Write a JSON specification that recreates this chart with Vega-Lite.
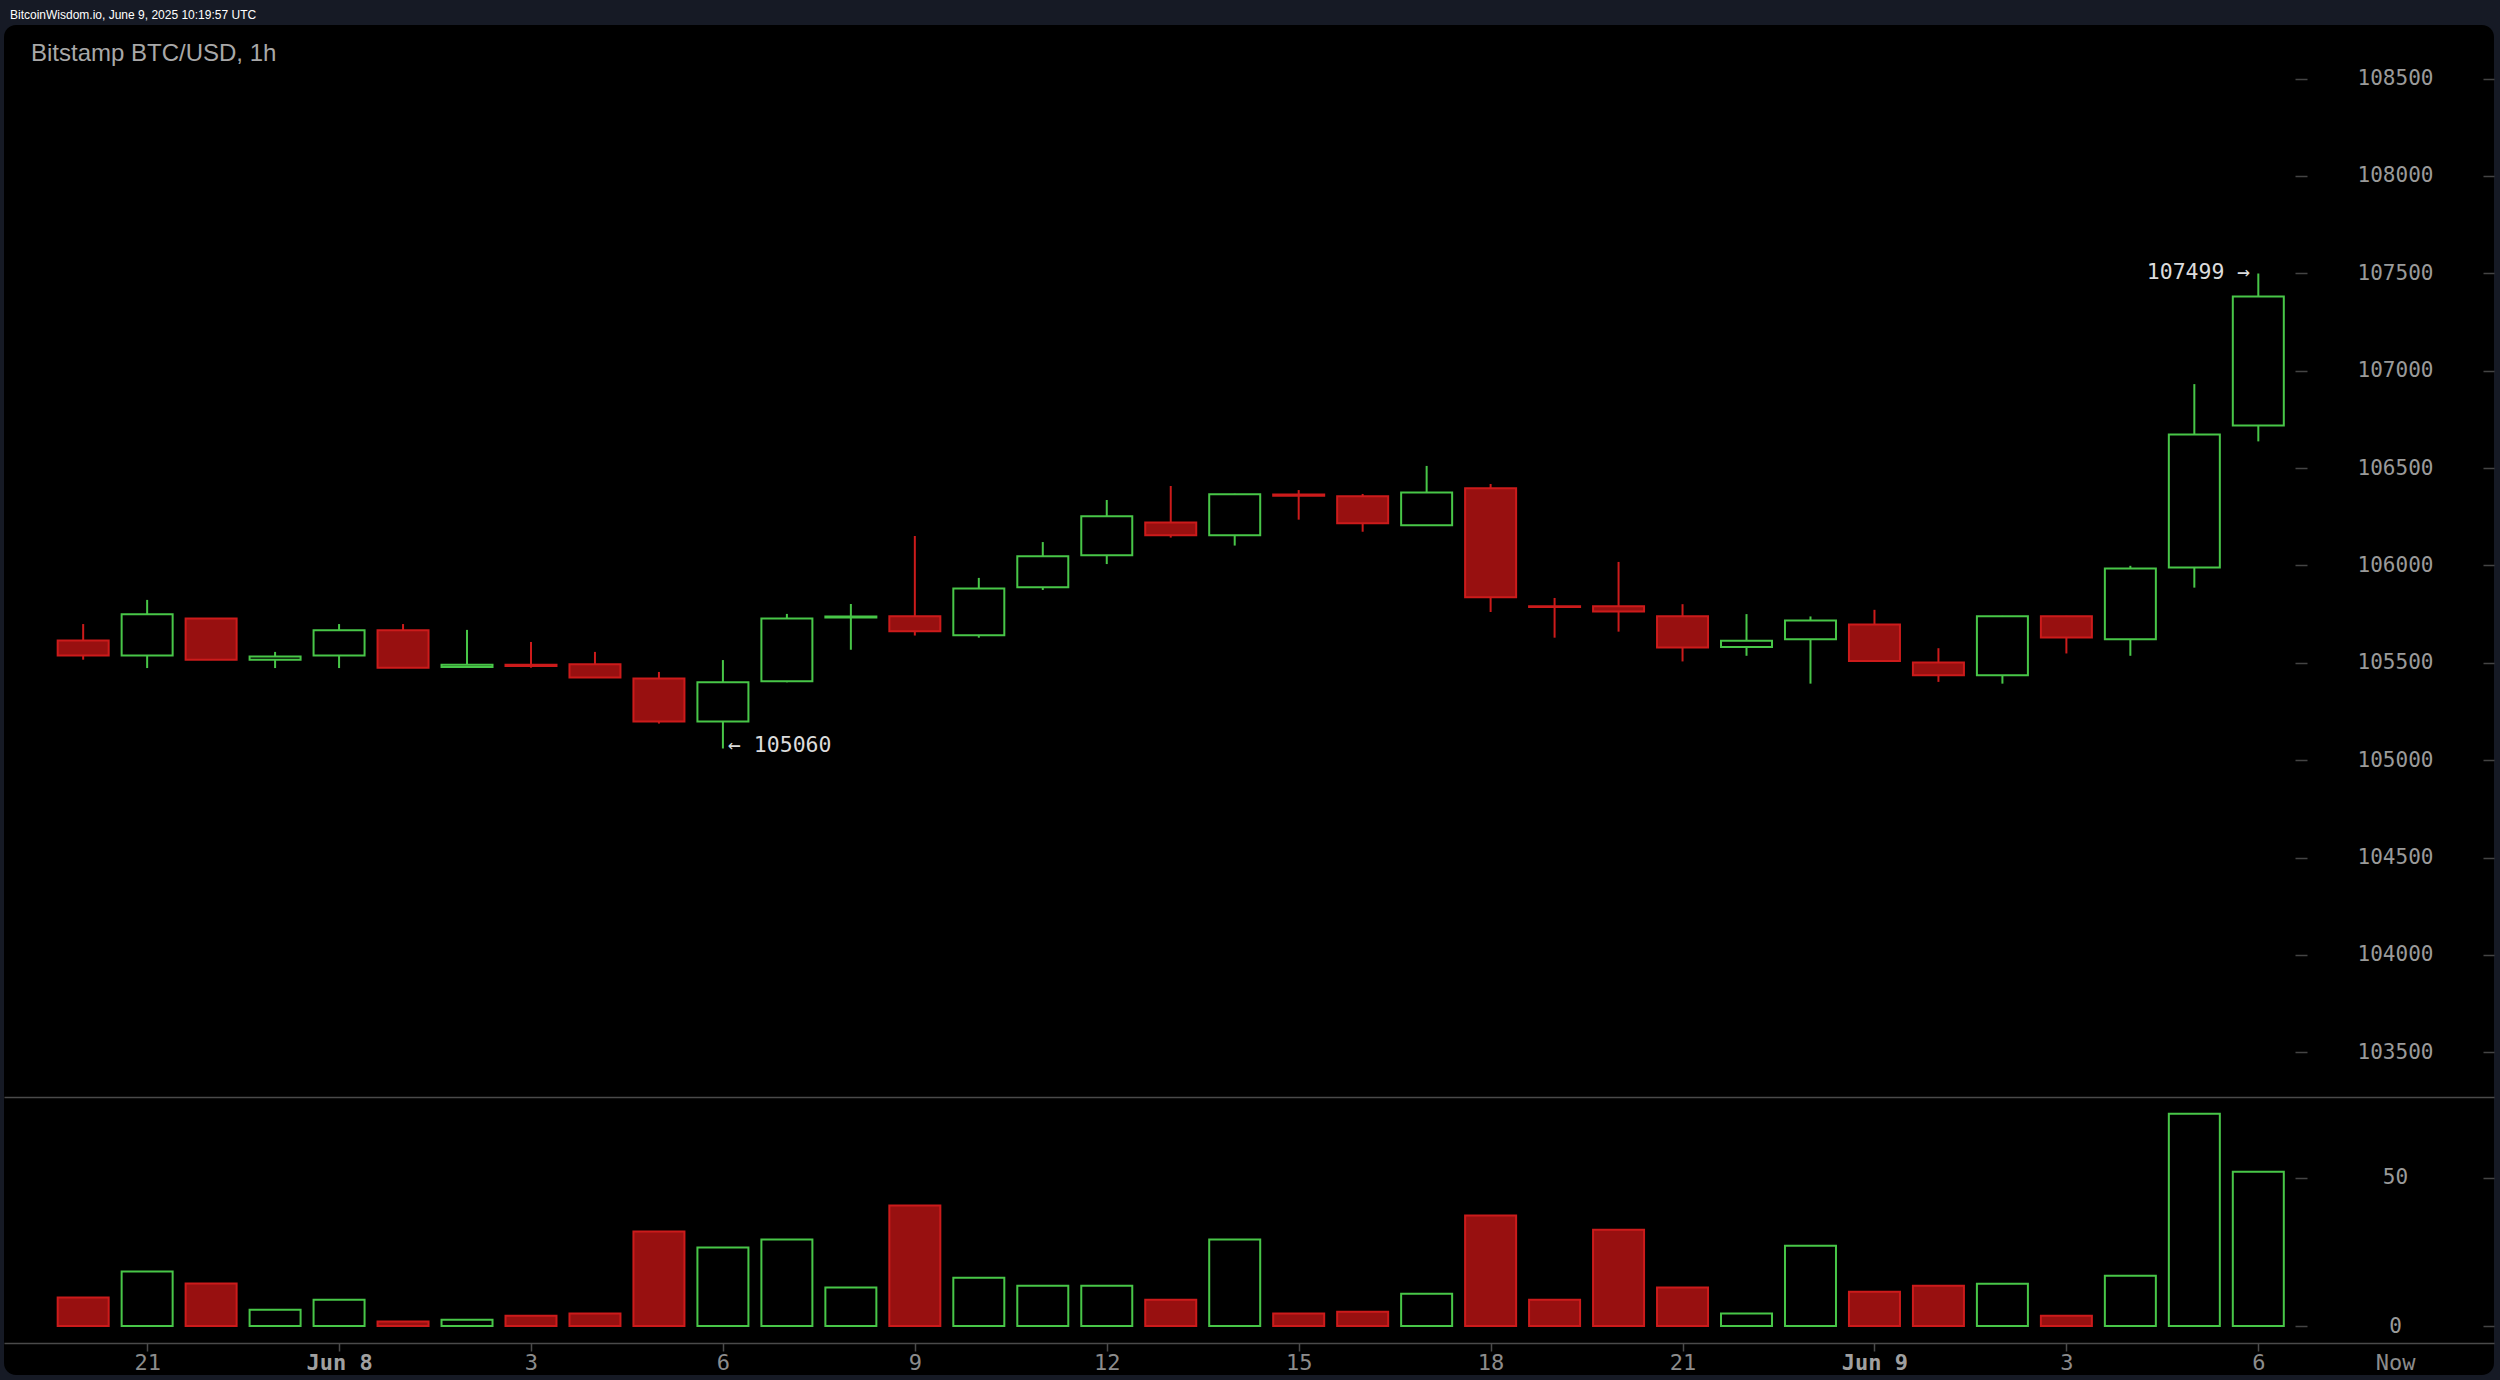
{
  "$schema": "https://vega.github.io/schema/vega-lite/v6.json",
  "width": 2500,
  "height": 1380,
  "autosize": {"type": "fit", "contains": "padding"},
  "padding": {"left": 4, "top": 9, "right": 5, "bottom": 5},
  "background": "#161a25",
  "config": {
    "view": {"fill": "#000000", "stroke": null, "cornerRadius": 12},
    "axis": {"grid": false, "title": null, "labelFont": "DejaVu Sans Mono", "minExtent": 0}
  },
  "title": {
    "text": "BitcoinWisdom.io, June 9, 2025 10:19:57 UTC",
    "anchor": "start",
    "frame": "group",
    "dx": 6,
    "offset": -6,
    "baseline": "alphabetic",
    "font": "Liberation Sans",
    "fontSize": 12,
    "fontWeight": "normal",
    "color": "#ffffff"
  },
  "datasets": {
    "candles": [
      {"t": "2025-06-07T20:00:00Z", "open": 105615, "high": 105699, "low": 105516, "close": 105537, "volume": 9.6},
      {"t": "2025-06-07T21:00:00Z", "open": 105538, "high": 105823, "low": 105473, "close": 105749, "volume": 18.4},
      {"t": "2025-06-07T22:00:00Z", "open": 105728, "high": 105730, "low": 105514, "close": 105516, "volume": 14.4},
      {"t": "2025-06-07T23:00:00Z", "open": 105516, "high": 105556, "low": 105473, "close": 105533, "volume": 5.5},
      {"t": "2025-06-08T00:00:00Z", "open": 105538, "high": 105699, "low": 105473, "close": 105667, "volume": 8.9},
      {"t": "2025-06-08T01:00:00Z", "open": 105667, "high": 105699, "low": 105473, "close": 105475, "volume": 1.5},
      {"t": "2025-06-08T02:00:00Z", "open": 105478, "high": 105669, "low": 105475, "close": 105490, "volume": 2.1},
      {"t": "2025-06-08T03:00:00Z", "open": 105490, "high": 105607, "low": 105475, "close": 105484, "volume": 3.5},
      {"t": "2025-06-08T04:00:00Z", "open": 105492, "high": 105556, "low": 105424, "close": 105424, "volume": 4.2},
      {"t": "2025-06-08T05:00:00Z", "open": 105420, "high": 105453, "low": 105188, "close": 105198, "volume": 31.9},
      {"t": "2025-06-08T06:00:00Z", "open": 105198, "high": 105514, "low": 105060, "close": 105400, "volume": 26.5},
      {"t": "2025-06-08T07:00:00Z", "open": 105405, "high": 105751, "low": 105400, "close": 105727, "volume": 29.2},
      {"t": "2025-06-08T08:00:00Z", "open": 105732, "high": 105802, "low": 105567, "close": 105738, "volume": 13.0},
      {"t": "2025-06-08T09:00:00Z", "open": 105739, "high": 106151, "low": 105640, "close": 105662, "volume": 40.7},
      {"t": "2025-06-08T10:00:00Z", "open": 105641, "high": 105936, "low": 105629, "close": 105881, "volume": 16.3},
      {"t": "2025-06-08T11:00:00Z", "open": 105888, "high": 106120, "low": 105874, "close": 106047, "volume": 13.6},
      {"t": "2025-06-08T12:00:00Z", "open": 106052, "high": 106336, "low": 106007, "close": 106252, "volume": 13.6},
      {"t": "2025-06-08T13:00:00Z", "open": 106221, "high": 106408, "low": 106143, "close": 106155, "volume": 8.9},
      {"t": "2025-06-08T14:00:00Z", "open": 106155, "high": 106368, "low": 106102, "close": 106365, "volume": 29.2},
      {"t": "2025-06-08T15:00:00Z", "open": 106364, "high": 106387, "low": 106235, "close": 106358, "volume": 4.2},
      {"t": "2025-06-08T16:00:00Z", "open": 106355, "high": 106367, "low": 106173, "close": 106216, "volume": 4.8},
      {"t": "2025-06-08T17:00:00Z", "open": 106206, "high": 106511, "low": 106206, "close": 106374, "volume": 10.9},
      {"t": "2025-06-08T18:00:00Z", "open": 106396, "high": 106418, "low": 105761, "close": 105836, "volume": 37.3},
      {"t": "2025-06-08T19:00:00Z", "open": 105790, "high": 105833, "low": 105629, "close": 105786, "volume": 8.9},
      {"t": "2025-06-08T20:00:00Z", "open": 105790, "high": 106018, "low": 105660, "close": 105763, "volume": 32.5},
      {"t": "2025-06-08T21:00:00Z", "open": 105739, "high": 105801, "low": 105507, "close": 105579, "volume": 13.0},
      {"t": "2025-06-08T22:00:00Z", "open": 105581, "high": 105750, "low": 105536, "close": 105613, "volume": 4.2},
      {"t": "2025-06-08T23:00:00Z", "open": 105621, "high": 105738, "low": 105393, "close": 105717, "volume": 27.1},
      {"t": "2025-06-09T00:00:00Z", "open": 105697, "high": 105772, "low": 105507, "close": 105509, "volume": 11.6},
      {"t": "2025-06-09T01:00:00Z", "open": 105501, "high": 105575, "low": 105402, "close": 105436, "volume": 13.6},
      {"t": "2025-06-09T02:00:00Z", "open": 105436, "high": 105741, "low": 105393, "close": 105739, "volume": 14.3},
      {"t": "2025-06-09T03:00:00Z", "open": 105739, "high": 105741, "low": 105548, "close": 105630, "volume": 3.5},
      {"t": "2025-06-09T04:00:00Z", "open": 105621, "high": 105998, "low": 105536, "close": 105984, "volume": 17.0},
      {"t": "2025-06-09T05:00:00Z", "open": 105990, "high": 106931, "low": 105886, "close": 106672, "volume": 71.7},
      {"t": "2025-06-09T06:00:00Z", "open": 106719, "high": 107499, "low": 106637, "close": 107381, "volume": 52.1}
    ],
    "notes": [
      {"t": "2025-06-09T06:00:00Z", "price": 107499, "label": "107499 \u2192", "kind": "max"},
      {"t": "2025-06-08T06:00:00Z", "price": 105060, "label": "\u2190 105060", "kind": "min"}
    ]
  },
  "layer": [
    {
      "data": {"name": "candles"},
      "mark": {"type": "rule", "strokeWidth": 2},
      "encoding": {
        "x": {
          "field": "t", "type": "temporal",
          "scale": {"type": "utc", "padding": 0, "domain": [
            {"year": 2025, "month": 6, "date": 7, "hours": 18, "minutes": 45, "seconds": 45, "utc": true},
            {"year": 2025, "month": 6, "date": 9, "hours": 9, "minutes": 41, "seconds": 3, "utc": true}]},
          "axis": {
            "orient": "bottom", "offset": -32,
            "values": [
              {"year": 2025, "month": 6, "date": 7, "hours": 21, "utc": true},
              {"year": 2025, "month": 6, "date": 8, "hours": 0, "utc": true},
              {"year": 2025, "month": 6, "date": 8, "hours": 3, "utc": true},
              {"year": 2025, "month": 6, "date": 8, "hours": 6, "utc": true},
              {"year": 2025, "month": 6, "date": 8, "hours": 9, "utc": true},
              {"year": 2025, "month": 6, "date": 8, "hours": 12, "utc": true},
              {"year": 2025, "month": 6, "date": 8, "hours": 15, "utc": true},
              {"year": 2025, "month": 6, "date": 8, "hours": 18, "utc": true},
              {"year": 2025, "month": 6, "date": 8, "hours": 21, "utc": true},
              {"year": 2025, "month": 6, "date": 9, "hours": 0, "utc": true},
              {"year": 2025, "month": 6, "date": 9, "hours": 3, "utc": true},
              {"year": 2025, "month": 6, "date": 9, "hours": 6, "utc": true},
              {"year": 2025, "month": 6, "date": 9, "hours": 8, "minutes": 8, "seconds": 21, "utc": true}
            ],
            "labelExpr": "utchours(datum.value) == 8 ? 'Now' : (utchours(datum.value) == 0 ? utcFormat(datum.value, '%b %-d') : utcFormat(datum.value, '%-H'))",
            "domainColor": "#4a4a4a", "domainWidth": 1.5,
            "tickColor": "#4a4a4a", "tickSize": 8, "tickWidth": 1.5,
            "tickOpacity": {"condition": {"test": "utchours(datum.value) == 8", "value": 0}, "value": 1},
            "labelPadding": 1, "labelFontSize": 22, "labelFlush": false, "labelOverlap": false,
            "labelColor": {"condition": {"test": "utchours(datum.value) == 0", "value": "#a0a0a0"}, "value": "#8c8c8c"},
            "labelFontWeight": {"condition": {"test": "utchours(datum.value) == 0", "value": "bold"}, "value": "normal"}
          }
        },
        "y": {
          "field": "low", "type": "quantitative",
          "scale": {"domain": [101843, 108775], "nice": false, "zero": false, "padding": 0},
          "axis": {
            "orient": "right", "offset": -199,
            "values": [103500, 104000, 104500, 105000, 105500, 106000, 106500, 107000, 107500, 108000, 108500],
            "domain": false, "tickColor": "#444444", "tickSize": 12, "tickWidth": 1.5,
            "labelAlign": "center", "labelBaseline": "middle", "labelPadding": 88,
            "labelFontSize": 21, "labelColor": "#9a9a9a", "format": "d"
          }
        },
        "y2": {"field": "high"},
        "color": {"condition": {"test": "datum.close < datum.open", "value": "#cc1b1b"}, "value": "#48c648"}
      }
    },
    {
      "data": {"name": "candles"},
      "mark": {"type": "bar", "size": 51, "strokeWidth": 2},
      "encoding": {
        "x": {
          "field": "t", "type": "temporal",
          "scale": {"type": "utc", "padding": 0, "domain": [
            {"year": 2025, "month": 6, "date": 7, "hours": 18, "minutes": 45, "seconds": 45, "utc": true},
            {"year": 2025, "month": 6, "date": 9, "hours": 9, "minutes": 41, "seconds": 3, "utc": true}]},
          "axis": {
            "orient": "top", "offset": -1072, "domainColor": "#4a4a4a", "domainWidth": 1.5, "ticks": false, "labels": false,
            "title": "Bitstamp BTC/USD, 1h", "titleX": 26.5, "titleY": -1036.5, "titleAlign": "left", "titleAnchor": "start",
            "titleBaseline": "alphabetic", "titleAngle": 0, "titleFont": "Liberation Sans", "titleFontSize": 24,
            "titleFontWeight": "normal", "titleColor": "#a8a8a8"
          }
        },
        "y": {
          "field": "open", "type": "quantitative",
          "scale": {"domain": [101843, 108775], "nice": false, "zero": false, "padding": 0},
          "axis": {
            "orient": "right", "offset": -11,
            "values": [103500, 104000, 104500, 105000, 105500, 106000, 106500, 107000, 107500, 108000, 108500],
            "domain": false, "labels": false, "tickColor": "#444444", "tickSize": 11, "tickWidth": 1.5
          }
        },
        "y2": {"field": "close"},
        "fill": {"condition": {"test": "datum.close < datum.open", "value": "#981010"}, "value": "#000000"},
        "stroke": {"condition": {"test": "datum.close < datum.open", "value": "#cc1b1b"}, "value": "#48c648"}
      }
    },
    {
      "data": {"name": "candles"},
      "transform": [{"filter": "datum.close >= datum.open"}],
      "mark": {"type": "bar", "size": 51, "strokeWidth": 2, "fill": "#000000", "stroke": "#48c648"},
      "encoding": {
        "x": {"field": "t", "type": "temporal", "axis": null},
        "y": {
          "field": "volume", "type": "quantitative",
          "scale": {"domain": [-16.55, 439.5], "nice": false, "padding": 0},
          "axis": {
            "orient": "right", "offset": -199, "values": [0, 50],
            "domain": false, "tickColor": "#444444", "tickSize": 12, "tickWidth": 1.5,
            "labelAlign": "center", "labelBaseline": "middle", "labelPadding": 88,
            "labelFontSize": 21, "labelColor": "#9a9a9a"
          }
        }
      }
    },
    {
      "data": {"name": "candles"},
      "transform": [{"filter": "datum.close < datum.open"}],
      "mark": {"type": "bar", "size": 51, "strokeWidth": 2, "fill": "#981010", "stroke": "#cc1b1b"},
      "encoding": {
        "x": {"field": "t", "type": "temporal", "axis": null},
        "y": {
          "field": "volume", "type": "quantitative",
          "scale": {"domain": [-16.55, 439.5], "nice": false, "padding": 0},
          "axis": {
            "orient": "right", "offset": -11, "values": [0, 50],
            "domain": false, "labels": false, "tickColor": "#444444", "tickSize": 11, "tickWidth": 1.5
          }
        }
      }
    },
    {
      "data": {"name": "notes"},
      "transform": [{"filter": "datum.kind == 'max'"}],
      "mark": {"type": "text", "align": "right", "baseline": "middle", "dx": -8, "font": "DejaVu Sans Mono", "fontSize": 21.5, "color": "#dcdcdc"},
      "encoding": {
        "x": {"field": "t", "type": "temporal", "axis": null},
        "y": {"field": "price", "type": "quantitative", "scale": {"domain": [101843, 108775], "nice": false, "zero": false}, "axis": null},
        "text": {"field": "label"}
      }
    },
    {
      "data": {"name": "notes"},
      "transform": [{"filter": "datum.kind == 'min'"}],
      "mark": {"type": "text", "align": "left", "baseline": "middle", "dx": 5, "dy": -2, "font": "DejaVu Sans Mono", "fontSize": 21.5, "color": "#dcdcdc"},
      "encoding": {
        "x": {"field": "t", "type": "temporal", "axis": null},
        "y": {"field": "price", "type": "quantitative", "scale": {"domain": [101843, 108775], "nice": false, "zero": false}, "axis": null},
        "text": {"field": "label"}
      }
    }
  ],
  "resolve": {"scale": {"y": "independent"}, "axis": {"x": "independent", "y": "independent"}}
}
